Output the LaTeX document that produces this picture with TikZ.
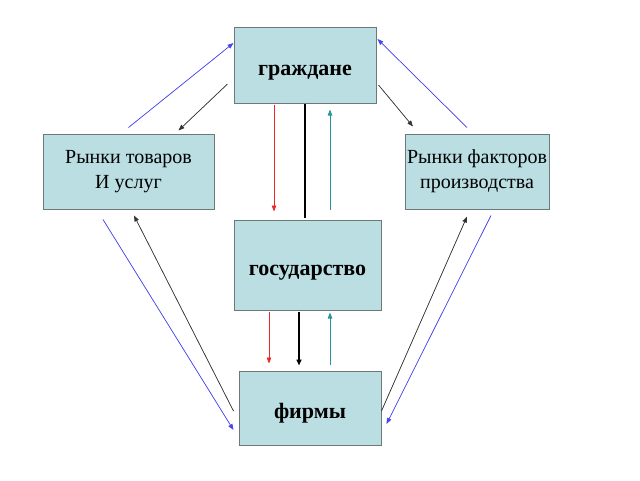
\documentclass[tikz,border=0pt]{standalone}
\usepackage{fontspec}
\setmainfont{Liberation Serif}
\usepackage{tikz}
\usetikzlibrary{arrows.meta, calc}
\definecolor{boxfill}{RGB}{186,222,226}
\definecolor{boxline}{RGB}{110,120,120}
\definecolor{flowblue}{RGB}{70,70,235}
\definecolor{flowred}{RGB}{235,40,40}
\definecolor{flowteal}{RGB}{40,150,150}
\tikzstyle{sector} = [rectangle, draw=boxline, line width=1pt, fill=boxfill, text centered, inner sep=0pt]
\tikzstyle{market} = [sector, font=\fontsize{20}{25}\selectfont, align=center]
\tikzstyle{agent} = [sector, font=\bfseries\fontsize{22}{26}\selectfont, text height=21pt, text depth=0pt]
\tikzstyle{arrow} = [line width=0.7pt, -{Triangle[length=6pt,width=4.5pt]}]
\tikzstyle{money} = [arrow, draw=flowblue, fill=flowblue]
\tikzstyle{goods} = [arrow, draw=black!80, fill=black!80]
\tikzstyle{tax} = [arrow, draw=flowred, fill=flowred]
\tikzstyle{spend} = [arrow, draw=flowteal, fill=flowteal]

\begin{document}
\begin{tikzpicture}[x=1pt, y=-1pt]
\useasboundingbox (0,0) rectangle (640,480);

\node (gr) [agent, minimum width=142pt, minimum height=76pt] at (305,65) {граждане};
\node (rt) [market, minimum width=171pt, minimum height=75pt] at (128.5,171.5) {Рынки товаров\\И услуг};
\node (rf) [market, minimum width=144pt, minimum height=75pt] at (477,171.5) {Рынки факторов\\производства};
\node (gos) [agent, minimum width=147pt, minimum height=90pt] at (307.5,265) {государство};
\node (fir) [agent, minimum width=142pt, minimum height=74pt] at (310,408) {фирмы};

% граждане <-> рынки
\draw [money] ($(rt.north)+(0,-6)$) -- ($(gr.west)+(0,-22)$);
\draw [goods] ($(gr.west)+(-6,19)$) -- ($(rt.north)+(50,-3)$);
\draw [goods] ($(gr.east)+(2,20)$) -- ($(rf.north)+(-64,-7)$);
\draw [money] ($(rf.north)+(-10,-6)$) -- ($(gr.east)+(1,-26)$);

% граждане <-> государство
\draw [tax] ($(gr.south)+(-31,1)$) -- ($(gos.north)+(-33.5,-8)$);
\draw [line width=2pt] (gr.south) -- ($(gos.north)+(-2.5,-2)$);
\draw [spend] ($(gos.north)+(22.5,-10)$) -- ($(gr.south)+(25,6)$);

% государство <-> фирмы
\draw [tax] ($(gos.south)+(-38.5,1)$) -- ($(fir.north)+(-41,-7)$);
\draw [line width=1.8pt, -{Triangle[length=6pt,width=5pt]}] ($(gos.south)+(-8.5,1)$) -- ($(fir.north)+(-11,-5)$);
\draw [spend] ($(fir.north)+(20,-6)$) -- ($(gos.south)+(22.5,2)$);

% рынки <-> фирмы
\draw [money] ($(rt.south)+(-25.5,10)$) -- ($(fir.west)+(-5,22)$);
\draw [goods] ($(fir.west)+(-5,3)$) -- ($(rt.south)+(5.5,6)$);
\draw [goods] ($(fir.east)+(0,3)$) -- ($(rf.south)+(-10,7)$);
\draw [money] ($(rf.south)+(14,6)$) -- ($(fir.east)+(5,16)$);

\end{tikzpicture}
\end{document}
